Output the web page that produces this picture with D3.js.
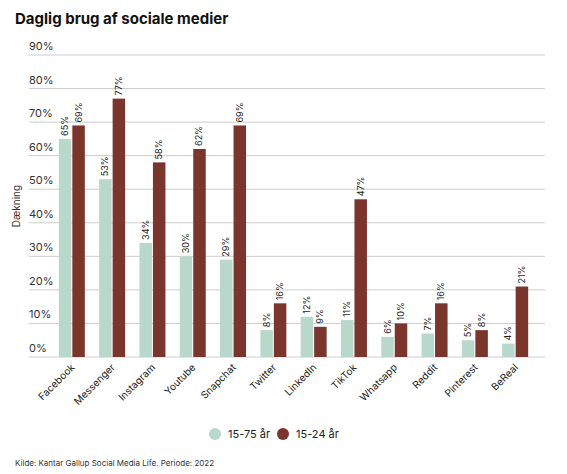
<!DOCTYPE html><html><head><meta charset="utf-8"><script src="https://cdn.jsdelivr.net/npm/d3@7"></script>
<style>body{margin:0;background:#fff;font-family:Inter,"Open Sans",sans-serif}</style></head><body><svg width="567" height="474"></svg><script>
const categories=["Facebook","Messenger","Instagram","Youtube","Snapchat","Twitter","LinkedIn","TikTok","Whatsapp","Reddit","Pinterest","BeReal"];
const all=[65,53,34,30,29,8,12,11,6,7,5,4];
const young=[69,77,58,62,69,16,9,47,10,16,8,21];
const ticks=[0,10,20,30,40,50,60,70,80,90];
const seriesNames=["15-75 år","15-24 år"];
const colors=["#b9d8cc","#7a352d"];
const svg=d3.select("svg");
svg.append("text").attr("x",15).attr("y",24).attr("font-size",15).attr("font-weight",700).attr("fill","#111").text("Daglig brug af sociale medier");
const y=d3.scaleLinear().domain([0,90]).range([357,55]);
const x=d3.scaleBand().domain(categories).range([54,532]).paddingInner(0.38).paddingOuter(0.12);
ticks.forEach(t=>{
 svg.append("line").attr("x1",29).attr("x2",545).attr("y1",y(t)).attr("y2",y(t)).attr("stroke","#ccc");
 svg.append("text").attr("x",29).attr("y",y(t)-5).attr("font-size",11).attr("fill","#333").text(t+"%");
});
svg.append("text").attr("transform",`translate(20,${y(45)}) rotate(-90)`).attr("text-anchor","middle").attr("font-size",10).attr("fill","#333").text("Dækning");
const bw=x.bandwidth()/2;
[all,young].forEach((vals,s)=>{
 const g=svg.append("g");
 g.selectAll("rect").data(categories).join("rect").attr("x",(c)=>x(c)+s*(bw+1)).attr("width",bw).attr("y",(c,i)=>y(vals[i])).attr("height",(c,i)=>y(0)-y(vals[i])).attr("fill",colors[s]);
 g.selectAll("text").data(categories).join("text").attr("transform",(c,i)=>`translate(${x(c)+s*(bw+1)+bw/2+3},${y(vals[i])-3}) rotate(-90)`).attr("font-size",9).attr("fill","#222").text((c,i)=>vals[i]+"%");
});
svg.append("g").selectAll("text").data(categories).join("text").attr("transform",c=>`translate(${x(c)+x.bandwidth()/2+4},${368}) rotate(-45)`).attr("text-anchor","end").attr("font-size",10).attr("fill","#222").text(c=>c);
const lg=svg.append("g");
[[215,0],[283,1]].forEach(([lx,i])=>{
 lg.append("circle").attr("cx",lx).attr("cy",434).attr("r",6).attr("fill",colors[i]);
 lg.append("text").attr("x",lx+13).attr("y",438).attr("font-size",11).attr("fill","#222").text(seriesNames[i]);
});
svg.append("text").attr("x",15).attr("y",466).attr("font-size",8).attr("fill","#333").text("Kilde: Kantar Gallup Social Media Life. Periode: 2022");
</script></body></html>
